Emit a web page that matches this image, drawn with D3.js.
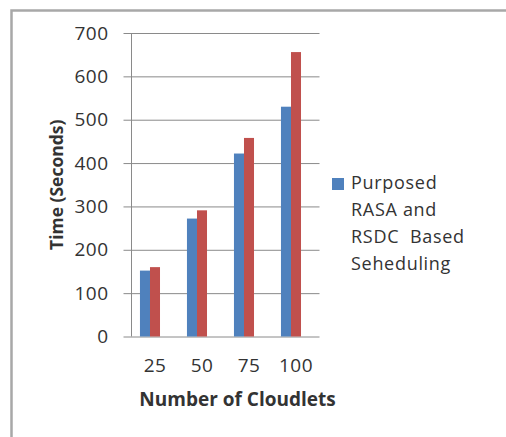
<!DOCTYPE html>
<html>
<head>
<meta charset="utf-8">
<script src="https://cdnjs.cloudflare.com/ajax/libs/d3/7.8.5/d3.min.js"></script>
<style>
    body{
        margin: 0;
        background: #fff;
    }
    text{
        font-family: "Open Sans", sans-serif;
        fill: #333;
    }
    .axis path{
        display: none;
    }
</style>
<title>Time vs Number of Cloudlets</title>
</head>
<body>
<div class="chart-wrap"></div>
<script>
var categories = ["25", "50", "75", "100"];
var seriesNames = ["Purposed RASA and RSDC Based Seheduling", "Existing"];
var rasaValues = [152, 272, 422, 530];
var otherValues = [160, 291, 458, 656];
var yTicks = [0, 100, 200, 300, 400, 500, 600, 700];
var legendLines = ["Purposed", "RASA and", "RSDC  Based", "Seheduling"];

var w = 506,
    h = 437;

var svg = d3.select(".chart-wrap").append("svg")
    .attr("width", w)
    .attr("height", h);

// outer chart frame (runs off the right and bottom edge in the original)
svg.append("rect")
    .attr("x", 11.5)
    .attr("y", 10.5)
    .attr("width", 520)
    .attr("height", 460)
    .style("fill", "none")
    .style("stroke", "#a8a8a8")
    .style("stroke-width", 2.5);

var plotLeft = 131.5, plotRight = 319.5, plotTop = 33, plotBottom = 336.5;

var x = d3.scaleBand()
    .domain(categories)
    .range([plotLeft, plotRight])
    .paddingInner(0.36)
    .paddingOuter(0.18);

// three slots per cluster, the last one is left empty like the source
var xSub = d3.scaleBand()
    .domain([0, 1, 2])
    .range([0, x.bandwidth()]);

var y = d3.scaleLinear()
    .domain([0, 700])
    .range([plotBottom, plotTop]);

// gridlines
svg.append("g")
    .attr("class", "axis grid")
    .attr("transform", "translate(" + plotLeft + ",0)")
    .call(d3.axisLeft(y).tickValues(yTicks).tickSize(-(plotRight - plotLeft)).tickFormat(""))
    .selectAll("line")
    .attr("x1", -8)
    .style("stroke", "#8a8a8a");

// y labels
var yAxis = svg.append("g")
    .attr("class", "axis")
    .attr("transform", "translate(" + plotLeft + ",0)")
    .call(d3.axisLeft(y).tickValues(yTicks).tickSize(0).tickPadding(23));
yAxis.selectAll("text")
    .style("font-size", "19px")
    .style("letter-spacing", "0.5px")
    .style("font-family", "'Open Sans', sans-serif")
    .style("fill", "#333");

// vertical axis line
svg.append("line")
    .attr("x1", plotLeft)
    .attr("x2", plotLeft)
    .attr("y1", plotTop)
    .attr("y2", plotBottom)
    .style("stroke", "#8a8a8a");

var series = [
    {name: seriesNames[0], values: rasaValues, color: "#4f81bd"},
    {name: seriesNames[1], values: otherValues, color: "#c0504d"}
];

series.forEach(function (s, i) {
    svg.append("g").selectAll("rect")
        .data(s.values)
        .enter().append("rect")
        .attr("x", function (d, j) { return x(categories[j]) + xSub(i); })
        .attr("y", function (d) { return y(d); })
        .attr("width", xSub.bandwidth())
        .attr("height", function (d) { return y(0) - y(d); })
        .style("fill", s.color);
});

// x labels
var xAxis = svg.append("g")
    .attr("class", "axis")
    .attr("transform", "translate(0," + plotBottom + ")")
    .call(d3.axisBottom(x).tickSize(0).tickPadding(22));
xAxis.selectAll("text")
    .style("font-size", "19px")
    .style("letter-spacing", "0.5px")
    .style("font-family", "'Open Sans', sans-serif")
    .style("fill", "#333");

svg.append("text")
    .attr("x", 237.5)
    .attr("y", 406)
    .attr("text-anchor", "middle")
    .style("font-size", "19px")
    .style("font-weight", "bold")
    .text("Number of Cloudlets");

svg.append("text")
    .attr("transform", "translate(62.5," + (plotTop + plotBottom) / 2 + ") rotate(-90)")
    .attr("text-anchor", "middle")
    .style("font-size", "17.5px")
    .style("font-weight", "bold")
    .text("Time (Seconds)");

// legend
svg.append("rect")
    .attr("x", 332)
    .attr("y", 178)
    .attr("width", 12)
    .attr("height", 12)
    .style("fill", series[0].color);

svg.append("g").selectAll("text")
    .data(legendLines)
    .enter().append("text")
    .attr("x", 351)
    .attr("y", function (d, i) { return 189 + i * 27; })
    .style("font-size", "18px")
    .style("letter-spacing", "0.7px")
    .style("white-space", "pre")
    .attr("xml:space", "preserve")
    .text(function (d) { return d; });
</script>
</body>
</html>
